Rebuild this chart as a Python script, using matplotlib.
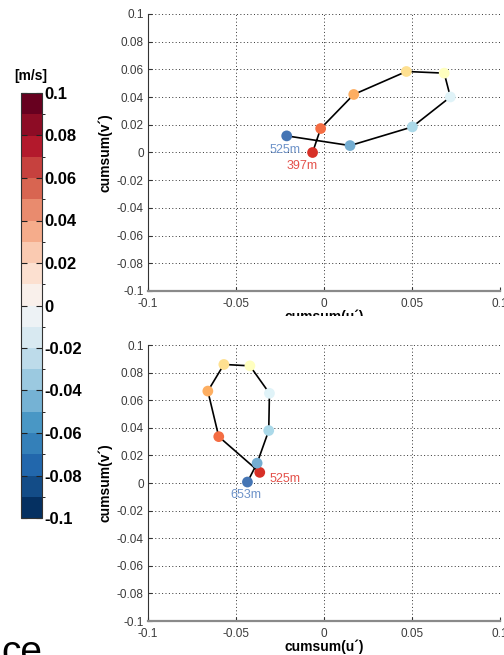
import numpy as np
import matplotlib
matplotlib.use("Agg")
import matplotlib.pyplot as plt
from matplotlib.colors import ListedColormap, BoundaryNorm
from matplotlib.transforms import Bbox, TransformedBbox
import matplotlib.colorbar as mcolorbar

plt.rcParams['font.family'] = 'Liberation Sans'
plt.rcParams['axes.unicode_minus'] = False

# top panel: hodograph from 397m to 525m
top_u = [-0.0065, -0.0019, 0.0169, 0.0468, 0.0683, 0.0718, 0.0502, 0.0148, -0.0212]
top_v = [0.0000, 0.0173, 0.0419, 0.0585, 0.0573, 0.0401, 0.0185, 0.0050, 0.0120]
top_labels = ['397m', '525m']
top_label_pos = [(-0.0127, -0.0095), (-0.0222, 0.0020)]

# bottom panel: hodograph from 525m to 653m
bot_u = [-0.0365, -0.0598, -0.0660, -0.0569, -0.0421, -0.0310, -0.0314, -0.0380, -0.0435]
bot_v = [0.0077, 0.0336, 0.0666, 0.0859, 0.0849, 0.0650, 0.0380, 0.0144, 0.0007]
bot_labels = ['525m', '653m']
bot_label_pos = [(-0.0224, 0.0031), (-0.0445, -0.0085)]

point_colors = ['#d73027', '#f46d43', '#fdae61', '#fee090', '#ffffbf',
                '#e0f3f8', '#abd9e9', '#74add1', '#4575b4']
label_colors = ['#e4524b', '#6e93c9']

ticks = [-0.1, -0.05, 0, 0.05, 0.1]
yticks = [-0.1, -0.08, -0.06, -0.04, -0.02, 0, 0.02, 0.04, 0.06, 0.08, 0.1]
cbar_levels = np.linspace(-0.1, 0.1, 21)
cbar_ticks = [-0.1, -0.08, -0.06, -0.04, -0.02, 0, 0.02, 0.04, 0.06, 0.08, 0.1]

W, H = 504, 655
fig = plt.figure(figsize=(W / 100, H / 100), dpi=100)


def fmt(v):
    s = '%g' % round(v, 4)
    return s


def panel(rect, u, v, labels, label_pos):
    ax = fig.add_axes(rect)
    ax.plot(u, v, color='black', lw=1.2, zorder=2)
    ax.scatter(u, v, c=point_colors, s=60, edgecolors='none', zorder=3)
    for t, (x, y), c in zip(labels, label_pos, label_colors):
        ax.text(x, y, t, color=c, fontsize=9, ha='center', va='center', zorder=4)
    ax.set_xlim(-0.1, 0.1)
    ax.set_ylim(-0.1, 0.1)
    ax.set_xticks(ticks)
    ax.set_xticklabels([fmt(t) for t in ticks])
    ax.set_yticks(yticks)
    ax.set_yticklabels([fmt(t) for t in yticks])
    ax.grid(True, linestyle=(0, (1, 2.5)), color='#333333', lw=0.7)
    ax.tick_params(direction='in', length=3, labelsize=8.5, labelcolor='#3a3a3a',
                   color='#333333', pad=3)
    ax.tick_params(axis='x', pad=5)
    for s in ['top', 'right']:
        ax.spines[s].set_visible(False)
    ax.spines['left'].set_color('#333333')
    ax.spines['left'].set_linewidth(0.8)
    ax.spines['bottom'].set_color('#8a8a8a')
    ax.spines['bottom'].set_linewidth(1.6)
    ax.set_ylabel('cumsum(v´)', fontsize=10, fontweight='bold')
    ax.set_xlabel('cumsum(u´)', fontsize=10, fontweight='bold')
    ax.yaxis.set_label_coords(-0.100, 0.5)
    ax.xaxis.set_label_coords(0.5, -0.068)
    return ax


ax1 = panel([148 / W, 1 - 291 / H, 352 / W, 277 / H], top_u, top_v, top_labels, top_label_pos)
ax2 = panel([148 / W, 1 - 621 / H, 352 / W, 276 / H], bot_u, bot_v, bot_labels, bot_label_pos)

# top x label is partly hidden behind the lower panel
clip = TransformedBbox(Bbox([[0, 1 - 316 / H], [1, 1]]), fig.transFigure)
ax1.xaxis.label.set_clip_box(clip)
ax1.xaxis.label.set_clip_on(True)

# colorbar
cmap = ListedColormap(plt.get_cmap('RdBu_r')(np.linspace(0, 1, 20)))
norm = BoundaryNorm(cbar_levels, cmap.N)
cax = fig.add_axes([21 / W, 1 - 518 / H, 21 / W, 425 / H])
cb = mcolorbar.ColorbarBase(cax, cmap=cmap, norm=norm, boundaries=cbar_levels,
                            ticks=cbar_ticks, orientation='vertical')
cb.ax.set_yticklabels([fmt(t) for t in cbar_ticks])
cb.ax.tick_params(direction='in', length=4, width=0.8, labelsize=12, pad=2,
                  left=True, right=True, color='#222222')
for lab in cb.ax.get_yticklabels():
    lab.set_fontweight('bold')
cb.outline.set_edgecolor('#333333')
cb.outline.set_linewidth(0.8)
fig.text(31 / W, 1 - 76 / H, '[m/s]', fontsize=10, fontweight='bold',
         ha='center', va='center')

# fragment of a cropped caption
fig.text(1 / W, -0.012, 'ce', fontsize=28, ha='left', va='baseline')

fig.savefig('out.png', dpi=100)
